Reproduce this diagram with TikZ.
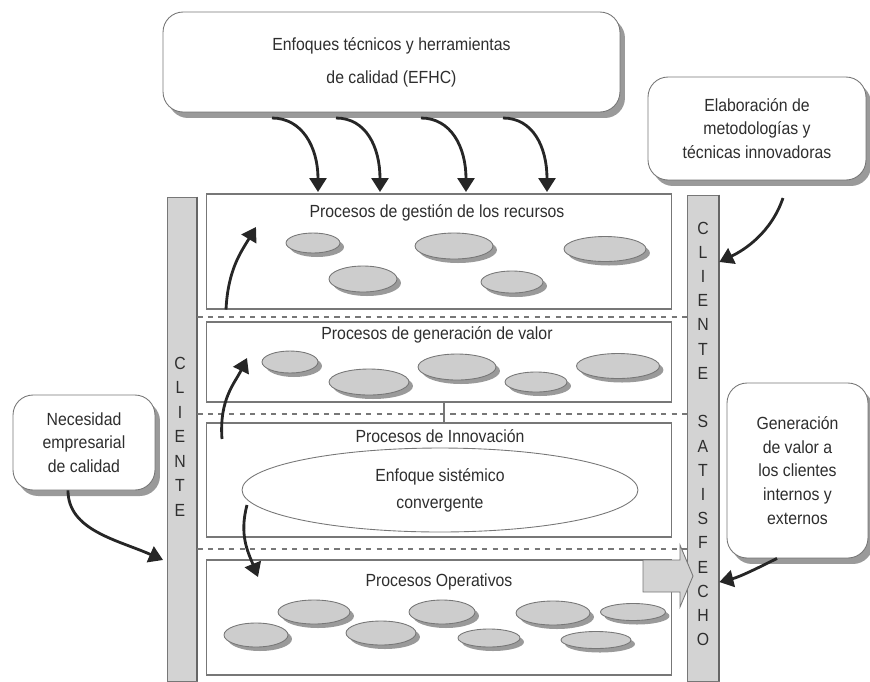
\documentclass[tikz,border=0pt]{standalone}
\usepackage{fontspec}
\setmainfont{Liberation Sans}[FakeStretch=0.90]
\usepackage{tikz}
\usetikzlibrary{shapes,arrows,arrows.meta,shadows}

\definecolor{textogris}{HTML}{2E2E2E}
\definecolor{bordegris}{HTML}{777777}
\definecolor{rellenogris}{HTML}{CDCDCD}
\definecolor{sombragris}{HTML}{9A9A9A}
\definecolor{barragris}{HTML}{D3D3D3}

\begin{document}
\begin{tikzpicture}[scale=1.0000, x=0.0200cm, y=-0.0200cm]
	\tikzstyle{every node}=[scale=1.0000, text=textogris, font=\fontsize{10.0}{13.5}\selectfont]
	\tikzstyle{cajaredonda}=[draw=bordegris, fill=white, rounded corners=0.4000cm, align=center, line width=0.5pt, drop shadow={shadow xshift=0.1000cm, shadow yshift=-0.1200cm, fill=sombragris, opacity=1}]
	\tikzstyle{caja}=[draw=bordegris, line width=0.6pt, minimum width=9.3200cm, inner sep=0pt]
	\tikzstyle{burbuja}=[ellipse, draw=bordegris, fill=rellenogris, inner sep=0pt, line width=0.5pt, drop shadow={shadow xshift=0.0800cm, shadow yshift=-0.0800cm, fill=sombragris, opacity=1}]
	\tikzstyle{barra}=[draw=bordegris, fill=barragris, inner sep=0pt]
	\tikzstyle{letra}=[inner sep=0pt]
	\tikzstyle{flecha}=[-{Triangle[length=0.2800cm, width=0.3400cm]}, line width=1.6pt, black!85]
	\tikzstyle{punteado}=[dashed, draw=bordegris, line width=0.6pt]

	\useasboundingbox (0.0000,0.0000) rectangle (870.0000,681.0000);

	%% cajas redondeadas
	\node [cajaredonda, minimum width=9.1400cm, minimum height=2.0000cm, font=\fontsize{10.0}{18.7}\selectfont] (efhc) at (391.5000,62.0000) {Enfoques técnicos y herramientas\\de calidad (EFHC)};
	\node [cajaredonda, minimum width=4.3600cm, minimum height=2.0600cm] (elaboracion) at (757.0000,128.5000) {Elaboración de\\metodologías y\\técnicas innovadoras};
	\node [cajaredonda, minimum width=2.8400cm, minimum height=1.9000cm] (necesidad) at (84.0000,442.5000) {Necesidad\\empresarial\\de calidad};
	\node [cajaredonda, minimum width=2.8200cm, minimum height=3.5000cm] (generacion) at (797.5000,470.5000) {Generación\\de valor a\\los clientes\\internos y\\externos};

	%% barras cliente
	\node [barra, minimum width=0.6000cm, minimum height=9.6800cm] (clienteizq) at (182.0000,439.0000) {};
	\node [barra, minimum width=0.6400cm, minimum height=9.7200cm] (clienteder) at (703.0000,438.0000) {};
	\draw [draw=black!60, line width=1.0pt] (clienteizq.north east) -- (clienteizq.south east);
	\draw [draw=black!60, line width=1.0pt] (clienteder.north east) -- (clienteder.south east);
	\foreach \letra [count=\i] in {C,L,I,E,N,T,E}
		\node [letra] (ci\i) at (180.0000,338.5+24.5*\i) {\letra};
	\foreach \letra [count=\i] in {C,L,I,E,N,T,E}
		\node [letra] (cd\i) at (703.0000,203.8+24.2*\i) {\letra};
	\foreach \letra [count=\i] in {S,A,T,I,S,F,E,C,H,O}
		\node [letra] (cs\i) at (703.0000,397.6+24.2*\i) {\letra};

	%% separadores
	\draw [punteado] (clienteizq.east |- 0,317) -- (clienteder.west |- 0,317);
	\draw [punteado] (clienteizq.east |- 0,414) -- (clienteder.west |- 0,414);
	\draw [punteado] (clienteizq.east |- 0,549) -- (clienteder.west |- 0,549);

	%% procesos
	\node [caja, minimum height=2.3000cm] (gestion) at (439.0000,251.5000) {};
	\node [caja, minimum height=1.6000cm] (valor) at (439.0000,362.0000) {};
	\node [caja, minimum height=2.2800cm] (innovacion) at (439.0000,480.0000) {};
	\node [caja, minimum height=2.3000cm] (operativos) at (439.0000,617.5000) {};
	\node (tgestion) at (437.0000,213.0000) {Procesos de gestión de los recursos};
	\node (tvalor) at (437.0000,335.0000) {Procesos de generación de valor};
	\node (tinnovacion) at (440.0000,436.0000) {Procesos de Innovación};
	\node (toperativos) at (439.0000,582.0000) {Procesos Operativos};
	\draw [draw=bordegris, line width=0.6pt] (valor.south -| 444,0) -- (innovacion.north -| 444,0);

	\node [ellipse, draw=bordegris, line width=0.5pt, minimum width=7.9200cm, minimum height=1.6800cm, align=center, inner sep=0pt, font=\fontsize{10.0}{15.3}\selectfont] (sistemico) at (440.0000,490.0000) {Enfoque sistémico\\convergente};

	\foreach \x/\y/\w/\h [count=\i] in {313/243/1.08/0.40, 454/246/1.56/0.52, 605/249/1.64/0.50, 363/279/1.36/0.52, 512/282/1.24/0.44}
		\node [burbuja, minimum width=\w cm, minimum height=\h cm] (g\i) at (\x,\y) {};
	\foreach \x/\y/\w/\h [count=\i] in {290/362/1.12/0.44, 369/382/1.60/0.52, 457/367/1.56/0.52, 536/382/1.24/0.40, 618/366/1.66/0.50}
		\node [burbuja, minimum width=\w cm, minimum height=\h cm] (v\i) at (\x,\y) {};
	\foreach \x/\y/\w/\h [count=\i] in {256/635/1.28/0.48, 314/612/1.44/0.48, 381/633/1.40/0.48, 442/612/1.32/0.48, 489/638/1.24/0.36, 553/613/1.48/0.48, 633/612/1.30/0.34, 596/640/1.40/0.34}
		\node [burbuja, minimum width=\w cm, minimum height=\h cm] (o\i) at (\x,\y) {};

	%% flechas
	\foreach \i/\xa/\xb in {1/272/318, 2/336/380, 3/421/466, 4/503/547}
	{
		\coordinate (ea\i) at (\xa,118.0000);
		\coordinate (eb\i) at (\xb,192.0000);
		\draw [flecha] (ea\i) .. controls +(30,0) and +(0,-45) .. (eb\i);
	}
	\coordinate (ela) at (783.0000,198.0000);
	\draw [flecha] (ela) .. controls +(-12,35) and +(25,-12) .. (clienteder.east |- 0,262);
	\draw [flecha] (generacion.south -| 777,0) .. controls +(-20,10) and +(20,-5) .. (clienteder.east |- 0,582);
	\coordinate (nea) at (163.0000,560.0000);
	\draw [flecha] (necesidad.south -| 68,0) .. controls +(0,40) and +(-45,-20) .. (nea);
	\coordinate (gsa) at (256.0000,227.0000);
	\draw [flecha] (gestion.south -| 226,0) .. controls +(2,-40) and +(-15,25) .. (gsa);
	\coordinate (ina) at (222.0000,439.0000);
	\coordinate (inb) at (247.0000,358.0000);
	\draw [flecha] (ina) .. controls +(-3,-40) and +(-12,25) .. (inb);
	\coordinate (sia) at (247.0000,505.0000);
	\coordinate (sib) at (258.0000,577.0000);
	\draw [flecha] (sia) .. controls +(-8,30) and +(-10,-25) .. (sib);

	%% flecha de bloque
	\draw [draw=bordegris, fill=barragris, line width=0.5pt] (643,560) -- (680,560) -- (680,545) -- (693,576) -- (680,607) -- (680,592) -- (643,592) -- cycle;

\end{tikzpicture}
\end{document}
